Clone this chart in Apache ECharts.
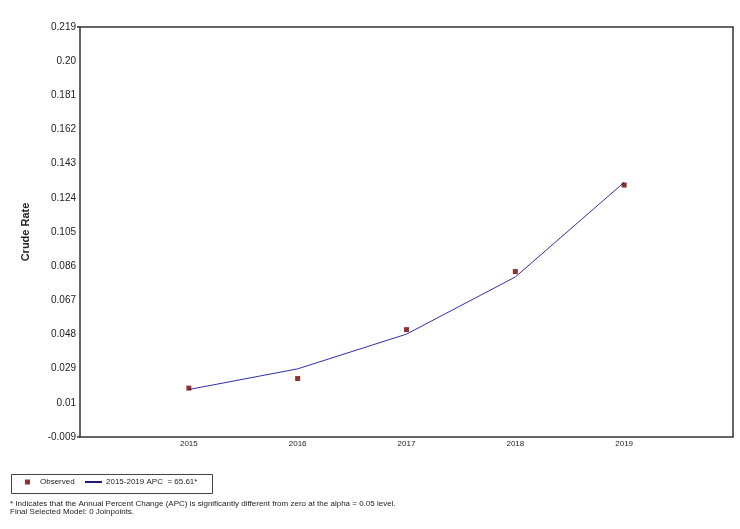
<!DOCTYPE html>
<html>
<head>
<meta charset="utf-8">
<script src="https://cdn.jsdelivr.net/npm/echarts@6/dist/echarts.min.js"></script>
<style>
  html, body { margin: 0; padding: 0; background: #fff; }
  #chart { width: 740px; height: 529px; }
</style>
</head>
<body>
<div id="chart"></div>
<script>
    // values
    var years = [2015, 2016, 2017, 2018, 2019];
    var observed = [0.0182, 0.0235, 0.0507, 0.0830, 0.1311];
    var fitted = [0.0174, 0.0289, 0.0482, 0.0800, 0.1326];
    var yTickLabels = ['-0.009', '0.01', '0.029', '0.048', '0.067', '0.086', '0.105',
                       '0.124', '0.143', '0.162', '0.181', '0.20', '0.219'];
    var yStep = 0.019;
    var yBase = -0.009;   // axis starts here, ticks every 0.019 from it

    var font = "'Liberation Sans', Arial, sans-serif";

    // axis runs from 0 so ticks line up with the odd base value
    var shift = function (v) { return +(v - yBase).toFixed(5); };
    var obsData = years.map(function (y, i) { return [y, shift(observed[i])]; });
    var fitData = years.map(function (y, i) { return [y, shift(fitted[i])]; });

    var myChart = echarts.init(document.getElementById('chart'));
    var option = {
        animation: false,
        backgroundColor: '#fff',
        grid: {
            left: 80, top: 27, right: 7, bottom: 92,
            show: true,
            borderColor: '#333',
            borderWidth: 1.5,
            backgroundColor: '#fff'
        },
        xAxis: {
            type: 'value',
            min: 2014,
            max: 2020,
            interval: 1,
            axisLine: { show: false },
            axisTick: { show: false },
            splitLine: { show: false },
            axisLabel: {
                margin: 3,
                fontSize: 8,
                fontFamily: font,
                color: '#222',
                formatter: function (v) {
                    return years.indexOf(v) >= 0 ? String(v) : '';
                }
            }
        },
        yAxis: {
            type: 'value',
            min: 0,
            max: +(yStep * (yTickLabels.length - 1)).toFixed(5),
            interval: yStep,
            name: 'Crude Rate',
            nameLocation: 'middle',
            nameGap: 49,
            nameTextStyle: { fontSize: 11, fontWeight: 'bold', fontFamily: font, color: '#222' },
            axisLine: { show: false },
            axisTick: { show: false },
            splitLine: { show: false },
            axisLabel: {
                margin: 4,
                fontSize: 10,
                fontFamily: font,
                color: '#222',
                formatter: function (v) {
                    return yTickLabels[Math.round(v / yStep)] || '';
                }
            }
        },
        legend: [
            {
                left: 25, top: 478,
                itemWidth: 5, itemHeight: 5,
                padding: 0,
                data: [{ name: 'Observed', icon: 'rect' }],
                textStyle: { fontSize: 8, fontFamily: font, color: '#222', padding: [0, 0, 0, 5] }
            },
            {
                left: 85, top: 478,
                itemWidth: 17, itemHeight: 2,
                padding: 0,
                data: [{ name: '2015-2019 APC  = 65.61*', icon: 'rect' }],
                textStyle: { fontSize: 8, fontFamily: font, color: '#222', padding: [0, 0, 0, -1] }
            }
        ],
        graphic: [
            {
                type: 'rect',
                shape: { x: 11.5, y: 474.5, width: 201, height: 19 },
                style: { fill: 'none', stroke: '#444', lineWidth: 1 },
                silent: true
            },
            {
                // short stubs where the frame meets the first and last y labels
                type: 'polyline',
                shape: { points: [[77, 27], [80, 27]] },
                style: { stroke: '#333', lineWidth: 1.5 },
                silent: true
            },
            {
                type: 'polyline',
                shape: { points: [[77, 437], [80, 437]] },
                style: { stroke: '#333', lineWidth: 1.5 },
                silent: true
            },
            {
                type: 'text',
                left: 10, top: 500,
                style: {
                    text: '* Indicates that the Annual Percent Change (APC) is significantly different from zero at the alpha = 0.05 level.\nFinal Selected Model: 0 Joinpoints.',
                    font: '8px ' + font,
                    lineHeight: 8,
                    fill: '#222'
                }
            }
        ],
        series: [
            {
                name: '2015-2019 APC  = 65.61*',
                type: 'line',
                data: fitData,
                symbol: 'none',
                lineStyle: { color: '#2f2fae', width: 1 },
                itemStyle: { color: '#1c1c7a' },
                z: 2
            },
            {
                name: 'Observed',
                type: 'scatter',
                data: obsData,
                symbol: 'rect',
                symbolSize: 5,
                itemStyle: { color: '#700000' },
                z: 3
            }
        ]
    };
    myChart.setOption(option);
</script>
</body>
</html>
